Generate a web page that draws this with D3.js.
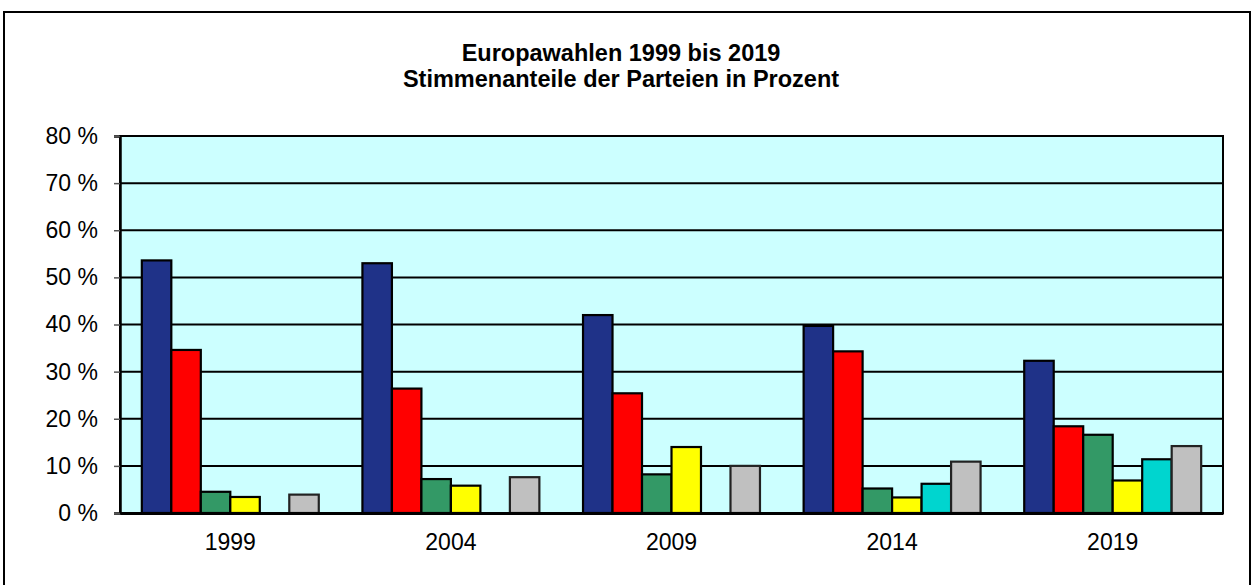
<!DOCTYPE html>
<html>
<head>
<meta charset="utf-8">
<script src="https://cdn.jsdelivr.net/npm/d3@7"></script>
<style>
  body { margin: 0; background: #fff; }
  svg { display: block; font-family: "Liberation Sans", Arial, sans-serif; }
</style>
</head>
<body>
<div id="chart"></div>
<script>
// Daten: Stimmenanteile in Prozent je Wahljahr
const jahre = ["1999", "2004", "2009", "2014", "2019"];
const parteien = ["CSU", "SPD", "Grüne", "FDP", "AfD", "Sonstige"];
const csu = [53.6, 53.0, 42.0, 39.7, 32.3];
const spd = [34.6, 26.4, 25.4, 34.3, 18.4];
const gruene = [4.5, 7.2, 8.2, 5.2, 16.6];
const fdp = [3.4, 5.8, 14.0, 3.3, 6.9];
const afd = [null, null, null, 6.2, 11.4];
const sonstige = [3.9, 7.6, 10.0, 10.9, 14.2];
const yTicks = [0, 10, 20, 30, 40, 50, 60, 70, 80];

const reihen = [csu, spd, gruene, fdp, afd, sonstige];
const farben = ["#1f3288", "#ff0000", "#339966", "#ffff00", "#00d5cf", "#c0c0c0"];

const width = 1252;
const height = 585;
const plot = { left: 120, right: 1223, top: 136, bottom: 513 };

const svg = d3.select("#chart")
  .append("svg")
  .attr("width", width)
  .attr("height", height);

// äußerer Rahmen
svg.append("rect")
  .attr("x", 4).attr("y", 12)
  .attr("width", 1246).attr("height", 600)
  .attr("fill", "#fff")
  .attr("stroke", "#000")
  .attr("stroke-width", 2);

// Titel
const title = svg.append("text")
  .attr("x", 621)
  .attr("text-anchor", "middle")
  .attr("font-weight", "bold")
  .attr("font-size", "23.5px")
  .attr("fill", "#000");
title.append("tspan").attr("x", 621).attr("y", 61).text("Europawahlen 1999 bis 2019");
title.append("tspan").attr("x", 621).attr("y", 87).text("Stimmenanteile der Parteien in Prozent");

const x0 = d3.scaleBand()
  .domain(jahre)
  .range([plot.left, plot.right])
  .padding(0);

const x1 = d3.scaleBand()
  .domain(d3.range(parteien.length))
  .range([0, x0.bandwidth()])
  .paddingInner(0)
  .paddingOuter(0.74);

const y = d3.scaleLinear()
  .domain([0, 80])
  .range([plot.bottom, plot.top]);

// Plotfläche
svg.append("rect")
  .attr("x", plot.left).attr("y", plot.top)
  .attr("width", plot.right - plot.left)
  .attr("height", plot.bottom - plot.top)
  .attr("fill", "#ccffff")
  .attr("stroke", "#000")
  .attr("stroke-width", 2);

// Gitterlinien
svg.append("g")
  .selectAll("line")
  .data(yTicks.filter((d) => d > 0 && d < 80))
  .join("line")
  .attr("x1", plot.left).attr("x2", plot.right)
  .attr("y1", (d) => y(d)).attr("y2", (d) => y(d))
  .attr("stroke", "#000")
  .attr("stroke-width", 2);

// Balken
const gruppen = svg.append("g")
  .selectAll("g")
  .data(jahre)
  .join("g")
  .attr("transform", (d) => `translate(${x0(d)},0)`);

gruppen.selectAll("rect")
  .data((jahr, j) => reihen.map((r, i) => ({ i, v: r[j] })).filter((d) => d.v != null))
  .join("rect")
  .attr("x", (d) => x1(d.i))
  .attr("y", (d) => y(d.v))
  .attr("width", x1.bandwidth())
  .attr("height", (d) => y(0) - y(d.v))
  .attr("fill", (d) => farben[d.i])
  .attr("stroke", (d) => (d.i === 5 ? "#222" : "#000"))
  .attr("stroke-width", 2.2);

// Y-Achse
const yAxis = svg.append("g")
  .attr("transform", `translate(${plot.left},0)`)
  .call(d3.axisLeft(y).tickValues(yTicks).tickSize(6).tickPadding(16).tickFormat((d) => d + " %"));
yAxis.select(".domain").attr("stroke", "#000").attr("stroke-width", 2.5);
yAxis.selectAll(".tick line").attr("stroke", "#555").attr("stroke-width", 1.5);
yAxis.selectAll("text")
  .attr("font-size", "23px")
  .attr("fill", "#000")
  .attr("font-family", "'Liberation Sans', Arial, sans-serif");

// X-Achse
const xAxis = svg.append("g")
  .attr("transform", `translate(0,${plot.bottom})`)
  .call(d3.axisBottom(x0).tickSize(0));
xAxis.select(".domain").attr("stroke", "#000").attr("stroke-width", 3);
xAxis.selectAll("text")
  .attr("y", 37)
  .attr("dy", 0)
  .attr("font-size", "23px")
  .attr("fill", "#000")
  .attr("font-family", "'Liberation Sans', Arial, sans-serif");
</script>
</body>
</html>
